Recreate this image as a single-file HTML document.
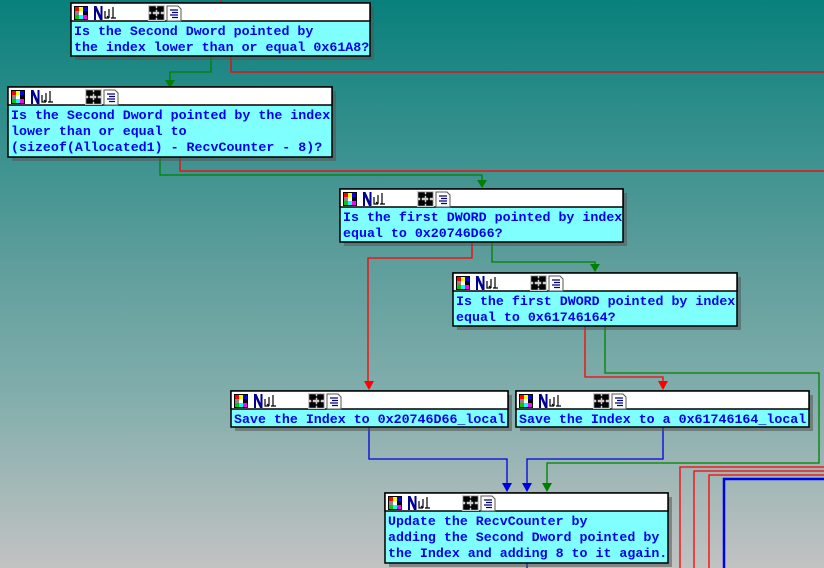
<!DOCTYPE html>
<html><head><meta charset="utf-8"><style>
html,body{margin:0;padding:0;width:824px;height:568px;overflow:hidden}
svg{display:block}
.t{font-family:"Liberation Mono",monospace;font-weight:bold;font-size:13.3px;fill:#0000f0}
</style></head><body>
<svg width="824" height="568" viewBox="0 0 824 568" xmlns="http://www.w3.org/2000/svg">
<defs>
<linearGradient id="bg" x1="0" y1="0" x2="0" y2="1">
<stop offset="0" stop-color="#09807c"/>
<stop offset="0.45" stop-color="#5c9d9b"/>
<stop offset="0.7" stop-color="#82aeac"/>
<stop offset="1" stop-color="#c2c2c2"/>
</linearGradient>
<g id="hdr">
<rect x="3" y="3" width="14" height="14" fill="#000"/>
<rect x="4" y="4" width="4" height="4" fill="#f00"/><rect x="8" y="4" width="4" height="4" fill="#ff0"/><rect x="12" y="4" width="4" height="4" fill="#00f"/>
<rect x="4" y="8" width="4" height="4" fill="#888"/><rect x="8" y="8" width="4" height="4" fill="#fff"/><rect x="12" y="8" width="4" height="4" fill="#000"/>
<rect x="4" y="12" width="4" height="4" fill="#0c0"/><rect x="8" y="12" width="4" height="4" fill="#0ff"/><rect x="12" y="12" width="4" height="4" fill="#f0f"/>
<path d="M23 17V3h2.5l4 9V3h2v14h-2.5l-4-9v9z" fill="#000090"/>
<path d="M34 8v7h4 M38 6v9 M42 4v11 M40 15h5 M36 13l2 2" stroke="#000" stroke-width="1.2" fill="none"/>
<rect x="77" y="2" width="17" height="16" fill="#ccc"/>
<path d="M79 4h5v4h-5z M87 4h5v4h-5z M79 12h5v4h-5z M87 12h5v4h-5z M81 8v4 M89 8v4 M84 6h3 M84 14h3" fill="#000" stroke="#000" stroke-width="1.5"/>
<path d="M96 3h11l3 3v12h-14z" fill="#fff" stroke="#555"/>
<path d="M99 7h8 M101 9.5h6 M99 12h8 M101 14.5h6" stroke="#000080" stroke-width="1.2"/>
</g>
<g id="ag"><path d="M-5 0h10l-5 9z" fill="#008000"/><path d="M-4 0v0" /></g>
</defs>
<rect width="824" height="568" fill="url(#bg)"/>

<!-- edges -->
<g fill="none" stroke-width="1.3">
<path d="M221 0V3" stroke="#f00"/>
<path d="M231 56V72H824" stroke="#f00"/>
<path d="M211 56V72H170V82" stroke="#008000"/>
<path d="M180 157V171H824" stroke="#f00"/>
<path d="M160 157V175H482V183" stroke="#008000"/>
<path d="M472 242V258H368V383" stroke="#f00"/>
<path d="M492 242V262H595V266" stroke="#008000"/>
<path d="M585 326V377H663V383" stroke="#f00"/>
<path d="M605 326V373H819V463H547V485" stroke="#008000"/>
<path d="M369 427V459H507V485" stroke="#0000e0"/>
<path d="M663 427V459H527V485" stroke="#0000e0"/>
<path d="M527 562V568" stroke="#0000e0"/>
<path d="M680 568V467H824" stroke="#f00"/>
<path d="M694 568V471H824" stroke="#f00"/>
<path d="M709 568V475H824" stroke="#f00"/>
<path d="M724 568V479H824" stroke="#0000f0" stroke-width="2.5"/>
</g>
<!-- arrowheads -->
<g>
<path d="M165 80h10l-5 8z" fill="#008000"/>
<path d="M477 180h10l-5 8z" fill="#008000"/>
<path d="M590 264h10l-5 8z" fill="#008000"/>
<path d="M364 381h10l-5 9z" fill="#f00"/>
<path d="M658 381h10l-5 9z" fill="#f00"/>
<path d="M502 483h10l-5 9z" fill="#0000e0"/>
<path d="M522 483h10l-5 9z" fill="#0000e0"/>
<path d="M542 483h10l-5 9z" fill="#008000"/>
</g>

<!-- nodes -->
<g fill="#555" opacity="0.55">
<rect x="75" y="7" width="299" height="53"/>
<rect x="12" y="91" width="324" height="70"/>
<rect x="344" y="193" width="283" height="53"/>
<rect x="457" y="277" width="284" height="53"/>
<rect x="235" y="395" width="277" height="36"/>
<rect x="520" y="395" width="293" height="36"/>
<rect x="389" y="497" width="283" height="70"/>
</g>
<g stroke="#000" stroke-width="1.5">
<rect x="71" y="3" width="299" height="53" fill="#80ffff"/><rect x="71" y="3" width="299" height="18" fill="#fff"/>
<rect x="8" y="87" width="324" height="70" fill="#80ffff"/><rect x="8" y="87" width="324" height="18" fill="#fff"/>
<rect x="340" y="189" width="283" height="53" fill="#80ffff"/><rect x="340" y="189" width="283" height="18" fill="#fff"/>
<rect x="453" y="273" width="284" height="53" fill="#80ffff"/><rect x="453" y="273" width="284" height="18" fill="#fff"/>
<rect x="231" y="391" width="277" height="36" fill="#80ffff"/><rect x="231" y="391" width="277" height="18" fill="#fff"/>
<rect x="516" y="391" width="293" height="36" fill="#80ffff"/><rect x="516" y="391" width="293" height="18" fill="#fff"/>
<rect x="385" y="493" width="283" height="70" fill="#80ffff"/><rect x="385" y="493" width="283" height="18" fill="#fff"/>
</g>
<use href="#hdr" x="71" y="3"/>
<use href="#hdr" x="8" y="87"/>
<use href="#hdr" x="340" y="189"/>
<use href="#hdr" x="453" y="273"/>
<use href="#hdr" x="231" y="391"/>
<use href="#hdr" x="516" y="391"/>
<use href="#hdr" x="385" y="493"/>

<g class="t">
<text x="74" y="35">Is the Second Dword pointed by</text>
<text x="74" y="51">the index lower than or equal 0x61A8?</text>
<text x="11" y="119">Is the Second Dword pointed by the index</text>
<text x="11" y="135">lower than or equal to</text>
<text x="11" y="151">(sizeof(Allocated1) - RecvCounter - 8)?</text>
<text x="343" y="221">Is the first DWORD pointed by index</text>
<text x="343" y="237">equal to 0x20746D66?</text>
<text x="456" y="305">Is the first DWORD pointed by index</text>
<text x="456" y="321">equal to 0x61746164?</text>
<text x="234" y="423">Save the Index to 0x20746D66_local</text>
<text x="519" y="423">Save the Index to a 0x61746164_local</text>
<text x="388" y="525">Update the RecvCounter by</text>
<text x="388" y="541">adding the Second Dword pointed by</text>
<text x="388" y="557">the Index and adding 8 to it again.</text>
</g>
</svg>
</body></html>
